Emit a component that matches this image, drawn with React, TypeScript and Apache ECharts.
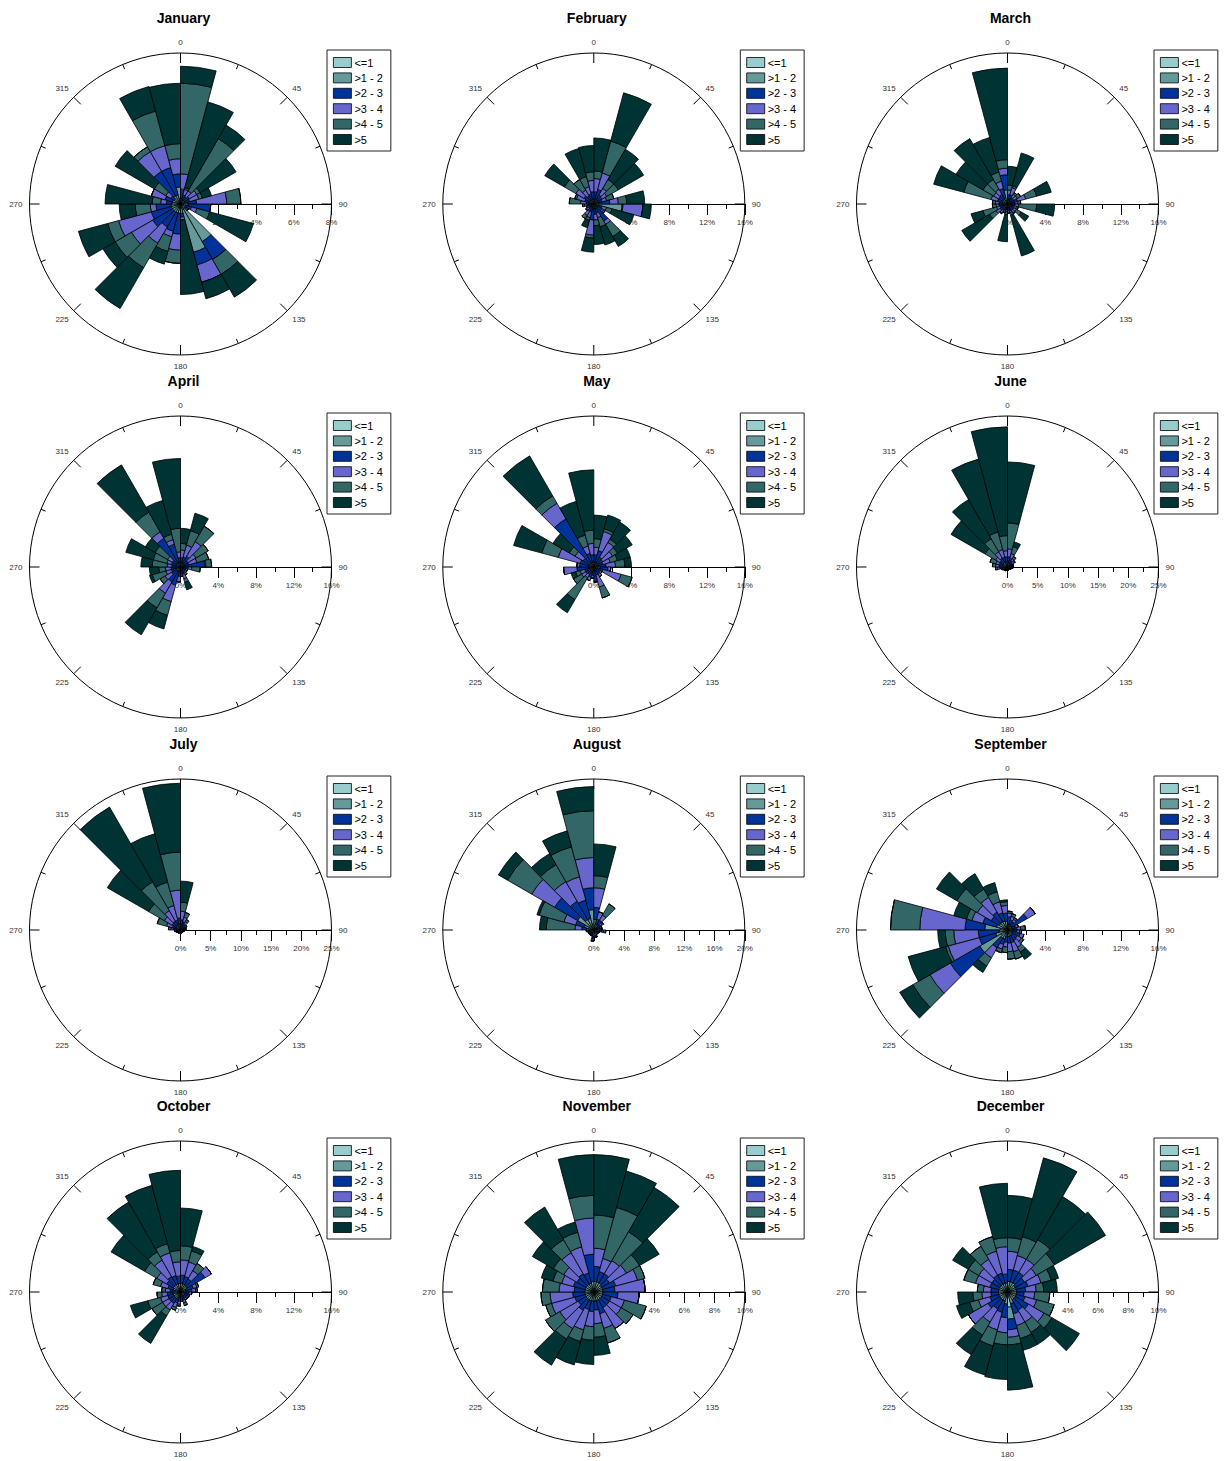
import React, { useEffect, useRef } from "react";
import * as echarts from "echarts";

const MONTHS = ["January", "February", "March", "April", "May", "June", "July", "August", "September", "October", "November", "December"];
const DIRECTIONS = ["0", "15", "30", "45", "60", "75", "90", "105", "120", "135", "150", "165", "180", "195", "210", "225", "240", "255", "270", "285", "300", "315", "330", "345"];
const BINS = ["<=1", ">1 - 2", ">2 - 3", ">3 - 4", ">4 - 5", ">5"];
const COLORS = ["#99CCCC", "#669999", "#003399", "#6666CC", "#336666", "#003333"];
const RADIAL_MAX = [8, 16, 16, 16, 16, 25, 25, 20, 16, 16, 10, 10];
const RADIAL_STEP = [2, 4, 4, 4, 4, 5, 5, 4, 4, 4, 2, 2];

// each row: one 15-degree sector (0-15, 15-30, ...), columns: the six speed bins (percent)
const JAN = [
  [0.1, 0.2, 0.5, 0.8, 4.8, 0.9], [0.1, 0.15, 0.25, 0.3, 0.1, 4.7], [0.1, 0.15, 0.2, 0.35, 3.2, 0.83], [0.1, 0.15, 0.3, 0.45, 0.2, 2.2],
  [0.1, 0.15, 0.25, 0.5, 0.2, 0.5], [0.1, 0.3, 0.45, 1.6, 0.75, 0], [0.1, 0.3, 1.2, 0, 0, 0], [0.1, 0.2, 0.3, 0.3, 0.7, 2.4],
  [0.1, 0.2, 0.2, 0, 0, 0], [0.3, 2.0, 1.1, 0, 0.9, 1.4], [0.3, 2.35, 0.7, 0.95, 0, 0.9], [0.2, 0.3, 0.2, 0.15, 0, 3.95],
  [0.15, 0.35, 1.1, 0.85, 0.7, 0], [0.15, 0.35, 1.0, 0.3, 0.8, 0.7], [0.15, 0.35, 0.9, 1.0, 1.5, 2.5], [0.15, 0.35, 1.2, 1.3, 1.0, 0.75],
  [0.15, 0.35, 1.1, 1.8, 0.6, 1.6], [0.15, 0.35, 0.8, 0.3, 0.8, 0.85], [0.15, 0.3, 0.3, 0.3, 0.45, 2.5], [0.15, 0.3, 0.4, 0.75, 0, 0],
  [0.1, 0.3, 0.2, 0.3, 0.7, 2.4], [0.15, 0.35, 1.5, 1.2, 0.3, 0], [0.15, 0.35, 1.5, 1.2, 1.9, 1.35], [0.3, 0.6, 0.7, 0.8, 0.8, 3.2],
];
const FEB = [
  [0.15, 0.35, 0.8, 1.4, 0.8, 3.5], [0.15, 0.35, 1.1, 1.8, 3.5, 5.3], [0.15, 0.35, 0.6, 0.8, 1.1, 3.7], [0.15, 0.35, 0.5, 0.6, 1.4, 3.1],
  [0.15, 0.35, 0.4, 0.5, 0.8, 0], [0.15, 0.35, 1.2, 0.9, 0.9, 1.9], [0.3, 2.7, 0.1, 2.1, 0, 0.9], [0.15, 0.35, 0.4, 0.5, 0.6, 2.4],
  [0.1, 0.3, 0.6, 0.2, 0.2, 0], [0.15, 0.35, 1.6, 0.4, 1.5, 1.2], [0.15, 0.35, 0.5, 0.5, 1.0, 2.0], [0.15, 0.35, 0.6, 0.6, 0.6, 2.0],
  [0.15, 0.35, 1.2, 1.6, 0.3, 1.5], [0.1, 0.3, 0.5, 0.6, 0.3, 0.8], [0.1, 0.3, 0.5, 0.5, 0.4, 0], [0.1, 0.2, 0.3, 0.3, 0.1, 0],
  [0.1, 0.2, 0.3, 0.2, 0, 0], [0.1, 0.2, 0.4, 0.3, 0.2, 0], [0.1, 0.3, 0.4, 0.6, 1.2, 0], [0.1, 0.3, 0.6, 0.9, 0.2, 0],
  [0.15, 0.35, 0.7, 1.0, 1.4, 2.4], [0.15, 0.35, 0.5, 0.7, 1.3, 0], [0.15, 0.35, 0.6, 0.8, 1.1, 3.1], [0.15, 0.35, 0.8, 1.2, 0.9, 2.8],
];
const MAR = [
  [0.15, 0.35, 0.5, 0.5, 0.5, 2.0], [0.15, 0.35, 0.5, 0.8, 0.2, 3.6], [0.1, 0.3, 0.4, 0.4, 0.2, 0], [0.1, 0.3, 0.4, 0.4, 0.4, 0],
  [0.15, 0.35, 0.6, 0.9, 1.2, 1.6], [0.1, 0.3, 0.4, 0.3, 0.3, 0], [0.15, 0.35, 0.3, 0.4, 1.9, 1.9], [0.1, 0.3, 0.3, 0.3, 0.2, 0],
  [0.1, 0.3, 0.4, 0.3, 0.6, 0.9], [0.1, 0.3, 0.4, 0.3, 0.1, 0], [0.15, 0.3, 0.3, 0.2, 0.3, 4.45], [0.1, 0.3, 0.3, 0.2, 0.1, 0],
  [0.15, 0.3, 0.2, 0.2, 0.3, 2.85], [0.1, 0.3, 0.3, 0.2, 0.1, 0], [0.1, 0.3, 0.4, 0.3, 0.1, 0], [0.15, 0.35, 0.4, 0.5, 0.8, 3.4],
  [0.1, 0.3, 0.4, 0.4, 1.5, 1.3], [0.2, 0.3, 0.4, 0.3, 0.4, 0], [0.2, 0.3, 0.4, 0.4, 0.3, 0], [0.2, 0.4, 0.5, 0.7, 3.0, 3.3],
  [0.2, 0.4, 0.5, 0.6, 1.3, 3.3], [0.2, 0.4, 0.6, 0.6, 1.2, 5.0], [0.2, 0.5, 1.0, 0.8, 1.0, 3.8], [0.3, 1.2, 1.6, 0.7, 0.9, 9.7],
];
const APR = [
  [0.15, 0.35, 0.5, 0.8, 0.7, 1.6], [0.15, 0.35, 0.6, 1.3, 1.6, 1.9], [0.15, 0.35, 0.8, 1.8, 1.9, 0], [0.1, 0.3, 0.5, 1.0, 1.5, 0],
  [0.1, 0.3, 0.5, 0.9, 1.3, 0], [0.15, 0.35, 2.1, 0.1, 0.6, 0], [0.1, 0.3, 0.4, 0.4, 0.9, 0], [0.1, 0.2, 0.3, 0.2, 0, 0],
  [0.1, 0.2, 0.3, 0.2, 0, 0], [0.1, 0.3, 0.3, 0.3, 0, 0], [0.1, 0.3, 0.4, 0.5, 0.4, 0.8], [0.1, 0.3, 0.4, 0.2, 0, 0],
  [0.1, 0.3, 0.6, 0.6, 0, 0], [0.15, 0.35, 1.5, 1.8, 1.5, 1.5], [0.15, 0.35, 1.3, 1.4, 1.8, 3.3], [0.15, 0.35, 0.6, 0.8, 0.6, 0],
  [0.15, 0.35, 0.5, 0.6, 1.5, 0.3], [0.15, 0.35, 0.5, 0.6, 0.7, 1.0], [0.15, 0.35, 0.4, 0.5, 1.6, 1.2], [0.15, 0.35, 0.5, 0.5, 1.5, 3.0],
  [0.15, 0.35, 0.5, 0.6, 1.5, 1.2], [0.15, 0.35, 3.0, 0.8, 2.4, 5.8], [0.15, 0.35, 2.0, 0.5, 0.6, 3.7], [0.15, 0.35, 0.5, 0.6, 2.5, 7.4],
];
const MAY = [
  [0.15, 0.35, 0.8, 0.8, 0.9, 2.5], [0.15, 0.35, 1.3, 2.1, 0.3, 1.5], [0.15, 0.35, 0.7, 1.8, 0.4, 2.1], [0.15, 0.35, 0.6, 1.2, 0.6, 1.8],
  [0.15, 0.35, 0.5, 0.8, 0.8, 1.4], [0.15, 0.35, 0.8, 1.0, 1.0, 0.7], [0.2, 0.5, 0.8, 0.3, 0, 0], [0.1, 0.3, 0.6, 2.0, 1.2, 0],
  [0.1, 0.3, 0.4, 0.2, 0, 0], [0.1, 0.3, 0.5, 0.3, 0, 0], [0.1, 0.3, 0.5, 1.3, 1.2, 0], [0.1, 0.3, 1.2, 0, 0, 0],
  [0.1, 0.3, 0.5, 0.3, 0, 0], [0.15, 0.35, 0.6, 0.4, 0, 0], [0.15, 0.35, 0.4, 0.4, 2.7, 1.6], [0.15, 0.35, 0.5, 0.5, 1.0, 0],
  [0.15, 0.35, 0.5, 0.5, 0.5, 0.5], [0.15, 0.35, 1.3, 1.4, 0, 0], [0.15, 0.35, 1.0, 0.3, 0, 0], [0.15, 0.35, 1.0, 2.4, 1.8, 3.1],
  [0.15, 0.35, 0.8, 1.0, 0.7, 2.0], [0.15, 0.35, 5.4, 1.9, 0.9, 4.9], [0.15, 0.35, 1.0, 0.8, 1.2, 3.7], [0.15, 0.35, 0.8, 1.2, 1.4, 6.4],
];
const JUN = [
  [0.3, 0.6, 0.8, 1.3, 4.3, 10.1], [0.3, 0.5, 0.7, 0.8, 1.2, 0.8], [0.2, 0.4, 0.5, 0.5, 0.4, 0], [0.2, 0.3, 0.4, 0.4, 0.2, 0],
  [0.2, 0.3, 0.3, 0.2, 0, 0], [0.2, 0.3, 0.3, 0.2, 0, 0], [0.2, 0.3, 0.3, 0.1, 0, 0], [0.2, 0.2, 0.2, 0.1, 0, 0],
  [0.2, 0.2, 0.2, 0, 0, 0], [0.2, 0.2, 0.1, 0, 0, 0], [0.2, 0.2, 0.1, 0, 0, 0], [0.2, 0.2, 0.1, 0, 0, 0],
  [0.2, 0.2, 0.1, 0, 0, 0], [0.2, 0.2, 0.2, 0, 0, 0], [0.2, 0.2, 0.2, 0.1, 0, 0], [0.2, 0.3, 0.2, 0.1, 0, 0],
  [0.2, 0.3, 0.3, 0.2, 0, 0], [0.3, 0.5, 0.5, 0.4, 0.3, 0], [0.3, 0.5, 0.6, 0.6, 0.5, 0], [0.3, 0.5, 0.6, 0.6, 1.0, 0],
  [0.3, 0.6, 0.6, 0.8, 2.0, 6.5], [0.3, 0.6, 0.8, 1.2, 2.5, 7.5], [0.3, 0.6, 0.8, 1.3, 3.0, 12.5], [0.3, 0.6, 0.8, 1.0, 2.5, 18.0],
];
const JUL = [
  [0.3, 0.6, 0.8, 1.4, 1.5, 3.5], [0.3, 0.5, 0.6, 0.8, 0.8, 0], [0.2, 0.4, 0.5, 0.5, 0.4, 0], [0.2, 0.3, 0.4, 0.3, 0, 0],
  [0.2, 0.3, 0.3, 0.2, 0, 0], [0.2, 0.3, 0.3, 0.1, 0, 0], [0.2, 0.2, 0.2, 0.1, 0, 0], [0.2, 0.2, 0.2, 0, 0, 0],
  [0.2, 0.2, 0.1, 0, 0, 0], [0.2, 0.2, 0.1, 0, 0, 0], [0.2, 0.2, 0.1, 0, 0, 0], [0.2, 0.2, 0.1, 0, 0, 0],
  [0.2, 0.2, 0.1, 0, 0, 0], [0.2, 0.2, 0.1, 0, 0, 0], [0.2, 0.2, 0.2, 0, 0, 0], [0.2, 0.2, 0.2, 0.1, 0, 0],
  [0.2, 0.3, 0.2, 0.1, 0, 0], [0.2, 0.3, 0.3, 0.2, 0, 0], [0.3, 0.4, 0.5, 0.4, 0.4, 0], [0.3, 0.5, 0.6, 1.0, 1.6, 0],
  [0.3, 0.5, 0.8, 1.5, 3.0, 7.9], [0.3, 0.6, 0.8, 2.0, 5.5, 14.3], [0.3, 0.6, 0.8, 2.5, 4.0, 8.3], [0.3, 0.7, 1.0, 4.6, 6.3, 11.4],
];
const AUG = [
  [0.6, 0.8, 1.6, 2.6, 1.6, 4.2], [0.3, 0.5, 0.7, 1.0, 0, 0], [0.3, 0.5, 0.7, 0.8, 1.7, 0], [0.2, 0.3, 0.5, 0.3, 0.2, 0],
  [0.2, 0.3, 0.4, 0.2, 0, 0], [0.2, 0.3, 0.4, 0.2, 0, 0], [0.3, 0.5, 0.3, 0.2, 0.3, 0], [0.2, 0.3, 0.2, 0.1, 0, 0],
  [0.2, 0.3, 0.2, 0, 0, 0], [0.2, 0.3, 0.2, 0, 0, 0], [0.3, 0.5, 0.2, 0, 0, 0], [0.3, 0.5, 0.2, 0, 0, 0],
  [0.3, 0.6, 0.3, 0.2, 0.1, 0], [0.2, 0.3, 0.2, 0.1, 0, 0], [0.2, 0.3, 0.2, 0.1, 0, 0], [0.2, 0.3, 0.2, 0.1, 0, 0],
  [0.2, 0.3, 0.2, 0.1, 0, 0], [0.2, 0.3, 0.3, 0.2, 0, 0], [0.4, 0.6, 0.6, 0.9, 3.8, 0.9], [0.5, 0.8, 1.2, 1.6, 3.4, 0.3],
  [0.8, 1.7, 3.5, 3.5, 3.7, 1.4], [0.6, 1.0, 2.8, 3.0, 2.6, 1.7], [0.6, 1.0, 2.5, 3.2, 4.1, 2.2], [0.8, 1.9, 2.9, 4.0, 6.2, 3.2],
];
const SEP = [
  [0.2, 0.4, 0.8, 0.4, 0.2, 0], [0.2, 0.4, 0.5, 0.4, 0.3, 0], [0.2, 0.3, 0.5, 0.3, 0.2, 0], [0.2, 0.4, 1.8, 1.0, 0, 0],
  [0.2, 0.3, 0.4, 0.3, 0, 0], [0.2, 0.4, 0.4, 0.4, 0.5, 0], [0.2, 0.3, 0.5, 0.3, 0.2, 0], [0.2, 0.3, 0.9, 0.4, 0, 0],
  [0.2, 0.4, 0.6, 0.5, 0.3, 0], [0.2, 0.5, 0.6, 0.8, 0.6, 0.9], [0.2, 0.5, 0.7, 1.0, 0.8, 0], [0.2, 0.5, 0.7, 0.9, 0.8, 0],
  [0.2, 0.5, 0.6, 0.5, 0.6, 0], [0.3, 0.7, 0.6, 0.5, 0.4, 0], [0.3, 0.7, 1.2, 1.2, 1.0, 0.8], [0.8, 2.6, 3.6, 2.5, 2.1, 1.6],
  [0.4, 0.9, 1.8, 3.4, 0.3, 4.1], [0.3, 0.6, 2.2, 2.6, 0.9, 0.8], [0.8, 1.6, 2.1, 4.8, 3.1, 0], [0.4, 0.8, 1.5, 1.2, 0.6, 1.4],
  [0.3, 0.7, 1.0, 1.7, 2.5, 2.5], [0.3, 0.7, 1.2, 1.8, 1.0, 1.9], [0.3, 0.7, 0.9, 1.2, 1.1, 1.0], [0.3, 0.6, 0.9, 0.8, 0.4, 0.2],
];
const OCT = [
  [0.3, 0.6, 0.9, 1.6, 1.5, 4.0], [0.3, 0.6, 0.8, 1.6, 1.2, 0.5], [0.3, 0.5, 0.8, 1.0, 0.9, 0], [0.3, 0.5, 2.2, 0.8, 0, 0],
  [0.2, 0.4, 0.8, 0.4, 0.2, 0], [0.2, 0.4, 0.6, 0.4, 0.2, 0], [0.2, 0.3, 0.4, 0.3, 0, 0], [0.2, 0.3, 0.3, 0.2, 0, 0],
  [0.2, 0.3, 0.3, 0.2, 0, 0], [0.2, 0.3, 0.3, 0.2, 0, 0], [0.2, 0.3, 0.4, 0.3, 0.3, 0], [0.2, 0.3, 0.3, 0.2, 0, 0],
  [0.2, 0.3, 0.5, 0.3, 0.2, 0], [0.2, 0.4, 0.6, 0.5, 0.3, 0], [0.3, 0.5, 0.6, 0.8, 0.7, 3.4], [0.3, 0.5, 0.6, 0.8, 1.3, 0],
  [0.3, 0.5, 0.6, 0.8, 1.4, 1.9], [0.3, 0.5, 0.6, 0.6, 0.5, 0], [0.2, 0.4, 0.5, 0.5, 0.4, 0], [0.3, 0.5, 0.6, 0.8, 0.8, 0],
  [0.3, 0.6, 0.8, 1.2, 1.5, 4.1], [0.3, 0.6, 1.0, 2.0, 1.0, 6.1], [0.3, 0.6, 0.9, 2.5, 1.0, 6.4], [0.3, 0.6, 0.8, 1.5, 1.2, 8.5],
];
const NOV = [
  [0.2, 0.5, 1.0, 1.2, 2.2, 4.0], [0.2, 0.5, 0.7, 0.9, 3.5, 2.5], [0.2, 0.5, 0.7, 1.0, 2.2, 3.4], [0.2, 0.4, 0.6, 1.3, 1.0, 1.5],
  [0.2, 0.4, 0.9, 1.5, 0.5, 0], [0.2, 0.4, 0.8, 2.0, 0, 0], [0.2, 0.4, 1.0, 1.4, 0, 0], [0.2, 0.4, 0.6, 0.9, 1.5, 0],
  [0.2, 0.4, 0.6, 0.9, 0.9, 0], [0.2, 0.4, 0.6, 1.6, 0, 0], [0.2, 0.4, 0.9, 1.0, 1.0, 0], [0.2, 0.4, 0.6, 0.9, 0.9, 1.2],
  [0.2, 0.4, 0.7, 1.0, 0.9, 1.6], [0.2, 0.4, 0.6, 1.4, 0.8, 1.6], [0.2, 0.4, 0.8, 1.4, 0.8, 2.0], [0.2, 0.4, 0.6, 1.4, 1.1, 0],
  [0.2, 0.4, 0.7, 1.6, 0.4, 0], [0.2, 0.4, 0.8, 1.5, 0.6, 0], [0.2, 0.4, 0.7, 1.0, 1.1, 0], [0.2, 0.4, 0.8, 0.8, 0.6, 0.8],
  [0.2, 0.4, 0.7, 1.0, 0.8, 1.6], [0.2, 0.4, 0.8, 1.6, 1.0, 2.5], [0.2, 0.4, 0.7, 1.8, 1.0, 0.7], [0.2, 0.5, 1.8, 2.4, 1.5, 2.7],
];
const DEC = [
  [0.2, 0.5, 0.8, 1.2, 0.9, 2.8], [0.2, 0.5, 0.8, 1.0, 1.3, 5.4], [0.2, 0.5, 0.8, 1.0, 1.5, 3.3], [0.2, 0.4, 0.7, 0.9, 1.4, 3.9],
  [0.2, 0.4, 0.8, 0.9, 0.7, 0.5], [0.2, 0.4, 0.6, 0.7, 0.5, 0.9], [0.2, 0.4, 0.5, 0.7, 1.0, 0], [0.2, 0.4, 0.6, 0.8, 1.2, 0],
  [0.2, 0.4, 1.0, 1.2, 0.6, 2.1], [0.2, 0.4, 0.8, 0.9, 0.8, 0.9], [0.3, 0.5, 0.7, 0.8, 0.9, 0.8], [1.0, 0.8, 0.7, 0.5, 0.5, 3.0],
  [0.3, 0.5, 0.9, 1.0, 0.8, 2.3], [0.2, 0.4, 0.8, 1.2, 1.1, 2.0], [0.2, 0.4, 0.7, 1.0, 1.0, 1.5], [0.2, 0.4, 0.9, 1.5, 0, 0],
  [0.2, 0.4, 0.6, 0.8, 0.6, 0.9], [0.2, 0.4, 0.5, 0.6, 0.6, 1.0], [0.2, 0.4, 0.5, 0.5, 0.4, 0], [0.2, 0.4, 0.6, 1.0, 0.8, 0],
  [0.2, 0.4, 0.6, 1.0, 0.8, 1.2], [0.2, 0.4, 0.7, 1.2, 1.0, 0], [0.2, 0.4, 0.7, 1.5, 1.0, 0], [0.2, 0.4, 0.6, 1.8, 0.6, 3.6],
];
const MONTH_DATA = [JAN, FEB, MAR, APR, MAY, JUN, JUL, AUG, SEP, OCT, NOV, DEC];

const COL_X = [180.5, 593.8, 1007.5];
const ROW_Y = [204, 567, 930, 1292];
const R = 151;
const FONT = "'Liberation Sans', Arial, Helvetica, sans-serif";

export default function App() {
  const ref = useRef<HTMLDivElement>(null);
  useEffect(() => {
    const chart = echarts.init(ref.current as HTMLDivElement, null, { renderer: "svg" });
    const n = MONTHS.length;
    const polar: any[] = [];
    const angleAxis: any[] = [];
    const radiusAxis: any[] = [];
    const grid: any[] = [];
    const xAxis: any[] = [];
    const yAxis: any[] = [];
    const legend: any[] = [];
    const series: any[] = [];
    const graphic: any[] = [];

    // bar polars
    MONTHS.forEach((m, i) => {
      const cx = COL_X[i % 3];
      const cy = ROW_Y[Math.floor(i / 3)];
      polar.push({ center: [cx, cy], radius: R });
      angleAxis.push({
        polarIndex: i, type: "category", data: DIRECTIONS, startAngle: 90, clockwise: true,
        boundaryGap: true, show: false,
      });
      radiusAxis.push({ polarIndex: i, type: "value", min: 0, max: RADIAL_MAX[i], show: false });
      BINS.forEach((b, k) => {
        series.push({
          type: "bar", coordinateSystem: "polar", polarIndex: i, name: b, stack: "rose" + i,
          data: MONTH_DATA[i].map((row) => row[k]),
          barCategoryGap: "0%", barGap: "0%", silent: true,
          itemStyle: { color: COLORS[k], borderColor: "#000", borderWidth: 0.8 },
          z: 3,
        });
      });
    });
    // frame polars (compass circle)
    MONTHS.forEach((m, i) => {
      const cx = COL_X[i % 3];
      const cy = ROW_Y[Math.floor(i / 3)];
      polar.push({ center: [cx, cy], radius: R });
      angleAxis.push({
        polarIndex: n + i, type: "value", min: 0, max: 360, interval: 45, startAngle: 90, clockwise: true,
        axisLine: { show: true, lineStyle: { color: "#000", width: 1 } },
        axisTick: { show: true, inside: true, length: 10, lineStyle: { color: "#000", width: 1 } },
        minorTick: { show: true, splitNumber: 2, length: 5, lineStyle: { color: "#000", width: 1 } },
        axisLabel: { show: true, fontSize: 8, color: "#333", margin: 7, fontFamily: FONT },
        splitLine: { show: false },
        minorSplitLine: { show: false },
      });
      radiusAxis.push({ polarIndex: n + i, type: "value", min: 0, max: 1, show: false });
      // radial percent scale along the east direction
      grid.push({ left: cx, top: cy - 20, width: R, height: 20 });
      xAxis.push({
        gridIndex: i, type: "value", position: "bottom", min: 0, max: RADIAL_MAX[i], interval: RADIAL_STEP[i],
        axisLine: { show: true, onZero: false, lineStyle: { color: "#000", width: 1 } },
        axisTick: { show: true, length: 11, lineStyle: { color: "#000", width: 1 } },
        minorTick: { show: true, splitNumber: 2, length: 5, lineStyle: { color: "#000", width: 1 } },
        axisLabel: { show: true, formatter: "{value}%", fontSize: 8, color: "#333", margin: 14, fontFamily: FONT },
        splitLine: { show: false },
        minorSplitLine: { show: false },
        z: 0,
      });
      yAxis.push({ gridIndex: i, type: "value", min: 0, max: 1, show: false });
      legend.push({
        data: BINS, orient: "vertical", left: cx + 146.5, top: cy - 154,
        itemWidth: 18, itemHeight: 10, itemGap: 4.4, icon: "rect",
        padding: [7, 8, 6, 6], borderColor: "#222", borderWidth: 1, backgroundColor: "#fff",
        itemStyle: { borderColor: "#000", borderWidth: 0.8 },
        textStyle: { fontSize: 11, color: "#000", fontFamily: FONT, lineHeight: 10, padding: [0, 0, 0, -2] },
        selectedMode: false,
      });
      graphic.push({
        type: "text", x: cx + 3, y: cy - 186.5, silent: true,
        style: { text: m, fill: "#000", font: `bold 14px ${FONT}`, align: "center", verticalAlign: "middle" },
      });
    });

    chart.setOption({
      animation: false,
      backgroundColor: "#fff",
      textStyle: { fontFamily: FONT },
      polar, angleAxis, radiusAxis, grid, xAxis, yAxis, legend, series, graphic,
    });
    return () => chart.dispose();
  }, []);
  return <div ref={ref} style={{ position: "absolute", left: 0, top: 0, width: 1224, height: 1461 }} />;
}
